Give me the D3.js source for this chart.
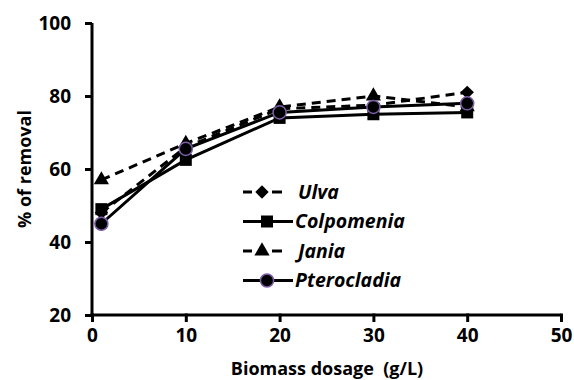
<!DOCTYPE html>
<meta charset="utf-8" />
<script src="https://d3js.org/d3.v7.min.js"></script>
<style>
  body { margin: 0; background: #fff; }
  text { font-family: "Open Sans", sans-serif; fill: #000; white-space: pre; }
</style>
<div id="chart"></div>
<script>
  // dosage values (g/L)
  const dosage = [1, 10, 20, 30, 40];
  // % removal per alga
  const ulva = [48, 66, 76.5, 77.5, 81];
  const colpomenia = [49, 62.5, 74, 75, 75.5];
  const jania = [57, 67, 77, 80, 77];
  const pterocladia = [45, 65.5, 75.5, 77, 78];
  const seriesNames = ["Ulva", "Colpomenia", "Jania", "Pterocladia"];
  const xTicks = [0, 10, 20, 30, 40, 50];
  const yTicks = [20, 40, 60, 80, 100];

  const W = 574, H = 380;
  const x = d3.scaleLinear().domain([0, 50]).range([92, 561]);
  const y = d3.scaleLinear().domain([20, 100]).range([315, 23]);

  const svg = d3.select("#chart").append("svg")
    .attr("width", W).attr("height", H);

  // diamond drawn as a square turned 45 degrees
  const diamond = {
    draw: function (ctx, size) {
      const r = Math.sqrt(size / 2);
      ctx.moveTo(0, -r); ctx.lineTo(r, 0); ctx.lineTo(0, r); ctx.lineTo(-r, 0); ctx.closePath();
    }
  };

  const series = [
    { name: seriesNames[0], values: ulva, dash: "9,6", sym: diamond, size: 90, stroke: "#000" },
    { name: seriesNames[1], values: colpomenia, dash: null, sym: d3.symbolSquare, size: 144, stroke: "#000" },
    { name: seriesNames[2], values: jania, dash: "9,6", sym: d3.symbolTriangle, size: 100, stroke: "#000" },
    { name: seriesNames[3], values: pterocladia, dash: null, sym: d3.symbolCircle, size: 135, stroke: "#7b5ea7" }
  ];

  // axes
  const xAxis = svg.append("g")
    .attr("transform", "translate(0," + y(20) + ")")
    .call(d3.axisBottom(x).tickValues(xTicks).tickSize(7).tickPadding(7));
  const yAxis = svg.append("g")
    .attr("transform", "translate(" + x(0) + ",0)")
    .call(d3.axisLeft(y).tickValues(yTicks).tickSize(7).tickPadding(14));

  [xAxis, yAxis].forEach(function (a) {
    a.select(".domain").attr("stroke-width", 3);
    a.selectAll(".tick line").attr("stroke-width", 3);
    a.selectAll(".tick text")
      .style("font-size", "19px").style("font-weight", "700")
      .attr("fill", "#000");
  });
  // plain axis lines without end caps
  xAxis.select(".domain").attr("d", "M" + (x(0) - 1.5) + ",0H" + x(50));
  yAxis.select(".domain").attr("d", "M0," + y(20) + "V" + y(100));
  xAxis.selectAll(".tick line").attr("y1", -1.5);

  // titles
  svg.append("text")
    .attr("x", 327).attr("y", 375)
    .attr("text-anchor", "middle")
    .style("font-size", "18px").style("font-weight", "700")
    .text("Biomass dosage  (g/L)");
  svg.append("text")
    .attr("transform", "translate(31,169) rotate(-90)")
    .attr("text-anchor", "middle")
    .style("font-size", "18px").style("font-weight", "700")
    .text("% of removal");

  const line = d3.line()
    .x(function (d, i) { return x(dosage[i]); })
    .y(function (d) { return y(d); });

  // lines
  series.forEach(function (s) {
    svg.append("path")
      .datum(s.values)
      .attr("fill", "none")
      .attr("stroke", "#000")
      .attr("stroke-width", 3)
      .attr("stroke-dasharray", s.dash)
      .attr("d", line);
  });

  // markers
  series.forEach(function (s) {
    svg.append("g").selectAll("path")
      .data(s.values)
      .enter().append("path")
      .attr("transform", function (d, i) {
        return "translate(" + x(dosage[i]) + "," + y(d) + ")";
      })
      .attr("d", d3.symbol().type(s.sym).size(s.size))
      .attr("fill", "#000")
      .attr("stroke", s.stroke)
      .attr("stroke-width", s.stroke === "#000" ? 0 : 1.5);
  });

  // legend
  const legend = svg.append("g");
  series.forEach(function (s, i) {
    const gy = 192 + i * 29.5;
    const g = legend.append("g").attr("transform", "translate(0," + gy + ")");
    if (s.dash) {
      g.append("line").attr("x1", 243).attr("x2", 252).attr("y1", 0).attr("y2", 0)
        .attr("stroke", "#000").attr("stroke-width", 3);
      g.append("line").attr("x1", 272).attr("x2", 282).attr("y1", 0).attr("y2", 0)
        .attr("stroke", "#000").attr("stroke-width", 3);
      g.append("path").attr("transform", "translate(262,0)")
        .attr("d", d3.symbol().type(s.sym).size(s.size)).attr("fill", "#000");
    } else {
      g.append("line").attr("x1", 243).attr("x2", 293).attr("y1", 0).attr("y2", 0)
        .attr("stroke", "#000").attr("stroke-width", 3);
      g.append("path").attr("transform", "translate(267,0)")
        .attr("d", d3.symbol().type(s.sym).size(s.size)).attr("fill", "#000")
        .attr("stroke", s.stroke).attr("stroke-width", s.stroke === "#000" ? 0 : 1.5);
    }
    g.append("text")
      .attr("x", s.dash ? 298 : 295).attr("y", 6.5)
      .style("font-size", "19.5px").style("font-weight", "700").style("font-style", "italic")
      .text(s.name);
  });
</script>
